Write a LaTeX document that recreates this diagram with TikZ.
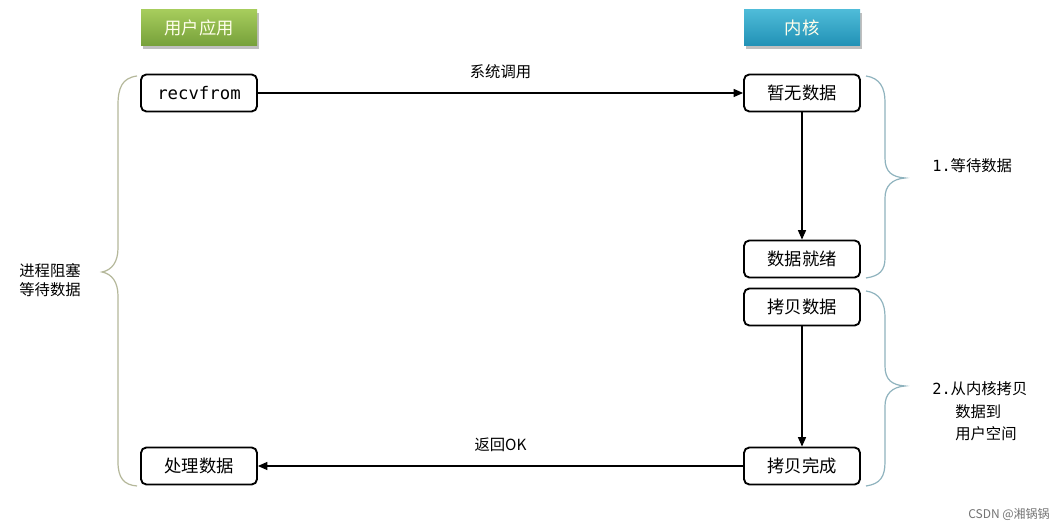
\documentclass[tikz,border=0pt]{standalone}
\usepackage{fontspec}
\setmainfont{Noto Sans CJK SC}
\newfontfamily\monof{DejaVu Sans Mono}
\usetikzlibrary{arrows.meta}
\definecolor{gtop}{HTML}{A6CC5C}\definecolor{gbot}{HTML}{76A03A}
\definecolor{btop}{HTML}{4EBBD8}\definecolor{bbot}{HTML}{2191B5}
\definecolor{lbrace}{HTML}{B5B89A}\definecolor{rbrace}{HTML}{8FB3BE}
\tikzset{
 stepbox/.style={draw,line width=1.4pt,rounded corners=4pt,minimum width=116\pxu,minimum height=37\pxu,inner sep=0pt,font=\fontsize{13}{15}\selectfont},
 hdr/.style={minimum width=116\pxu,minimum height=36\pxu,inner sep=0pt,text=white!92!yellow,font=\fontsize{13}{15}\selectfont},
 conn/.style={line width=0.8pt,-{Triangle[length=7pt,width=6pt]}},
 lbl/.style={font=\fontsize{11.5}{14}\selectfont,inner sep=0pt}
}
\newlength\pxu \setlength\pxu{0.75pt}
\begin{document}
\begin{tikzpicture}[x=0.75pt,y=-0.75pt]
\useasboundingbox (0,0) rectangle (1064,530);
\fill[white] (0,0) rectangle (1064,530);
\fill[black!25] (143,13) rectangle (259,49);
\fill[black!25] (746,13) rectangle (862,49);
\node[hdr,top color=gtop,bottom color=gbot] (h1) at (199,28) {用户应用};
\node[hdr,top color=btop,bottom color=bbot] (h2) at (802,28) {内核};
\node[stepbox,font=\monof\fontsize{13}{15}\selectfont] (rf) at (199,93) {recvfrom};
\node[stepbox] (k1) at (802,93) {暂无数据};
\node[stepbox] (k2) at (802,259) {数据就绪};
\node[stepbox] (k3) at (802,307) {拷贝数据};
\node[stepbox] (k4) at (802,466) {拷贝完成};
\node[stepbox] (pd) at (199,466) {处理数据};
\draw[conn] (rf) -- node[lbl,above=10pt] (l1) {系统调用} (k1);
\draw[conn] (k1) -- (k2);
\draw[conn] (k3) -- (k4);
\draw[conn] (k4) -- node[lbl,above=10pt] (l2) {返回OK} (pd);
\draw[lbrace,line width=0.9pt] (137,76) .. controls (122,78) and (118,88) .. (118,105) -- (118,248) .. controls (118,262) and (112,270) .. (102,272) .. controls (112,274) and (118,282) .. (118,296) -- (118,462) .. controls (118,478) and (124,485) .. (137,486);
\draw[rbrace,line width=0.9pt] (866,76) .. controls (880,78) and (885,88) .. (885,102) -- (885,158) .. controls (885,172) and (892,177) .. (905,178) .. controls (892,179) and (885,186) .. (885,198) -- (885,258) .. controls (885,270) and (880,276) .. (866,278);
\draw[rbrace,line width=0.9pt] (866,291) .. controls (880,293) and (885,303) .. (885,317) -- (885,366) .. controls (885,380) and (892,385) .. (905,386) .. controls (892,387) and (885,394) .. (885,406) -- (885,462) .. controls (885,477) and (880,484) .. (866,486);
\node[lbl,align=left] (ll) at (50,280) {进程阻塞\\等待数据};
\node[lbl,anchor=west] (r1) at (932,166) {{\monof 1.}等待数据};
\node[lbl,anchor=west] (r2) at (932,389) {{\monof 2.}从内核拷贝};
\node[lbl,anchor=west] (r3) at (955,412) {数据到};
\node[lbl,anchor=west] (r4) at (955,434) {用户空间};
\node[font=\fontsize{9}{11}\selectfont,text=black!55,anchor=east,inner sep=0pt] (wm) at (1050,514) {CSDN @湘锅锅};
\end{tikzpicture}
\end{document}
